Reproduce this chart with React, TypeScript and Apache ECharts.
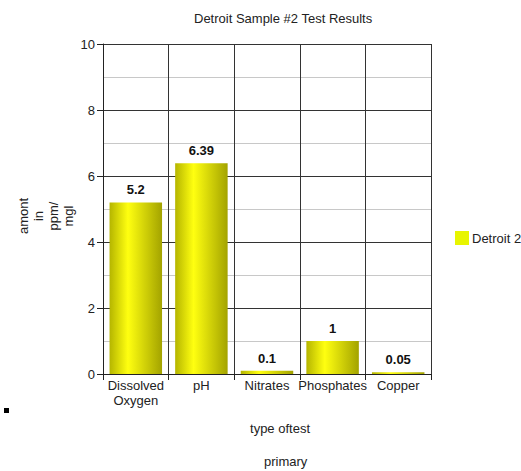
import React, { useEffect, useRef } from "react";
import * as echarts from "echarts";

const categories = ["Dissolved\nOxygen", "pH", "Nitrates", "Phosphates", "Copper"];
const values = [5.2, 6.39, 0.1, 1, 0.05];
const seriesName = "Detroit 2";
const titleText = "Detroit Sample #2 Test Results";
const xName = "type oftest";
const yName = "amont\nin\nppm/\nmgl";
const footer = "primary";

export default function App() {
  const ref = useRef<HTMLDivElement>(null);
  useEffect(() => {
    const chart = echarts.init(ref.current!, null, { renderer: "svg" });
    const font = "Liberation Sans, Arial, sans-serif";
    chart.setOption({
      animation: false,
      textStyle: { fontFamily: font },
      title: {
        text: titleText,
        left: 189,
        top: 7,
        textStyle: { fontSize: 13, fontWeight: "normal", color: "#222", fontFamily: font },
      },
      legend: {
        data: [seriesName],
        orient: "vertical",
        left: 455,
        top: 231,
        padding: 0,
        itemWidth: 14,
        itemHeight: 14,
        itemGap: 6,
        icon: "rect",
        itemStyle: { color: "#e8f500" },
        textStyle: { fontSize: 13, color: "#222", fontFamily: font, padding: [0, 0, 0, -2] },
      },
      grid: { left: 103, right: 90, top: 44, bottom: 97, show: false },
      xAxis: {
        type: "category",
        data: categories,
        name: xName,
        nameLocation: "middle",
        nameGap: 48,
        nameMoveOverlap: false,
        nameTextStyle: { fontSize: 13, color: "#222", fontFamily: font, padding: [0, 0, 0, 26] },
        axisLine: { show: true, lineStyle: { color: "#222", width: 1 } },
        axisTick: { show: true, length: 6, interval: 0, lineStyle: { color: "#222" } },
        axisLabel: { fontSize: 13, color: "#222", lineHeight: 15, margin: 4, interval: 0, fontFamily: font },
        splitLine: { show: true, interval: 0, lineStyle: { color: "#333", width: 1 } },
      },
      yAxis: {
        type: "value",
        min: 0,
        max: 10,
        interval: 2,
        axisLine: { show: true, lineStyle: { color: "#222", width: 1 } },
        axisTick: { show: true, length: 6, lineStyle: { color: "#222" } },
        axisLabel: { fontSize: 13, color: "#222", margin: 8, fontFamily: font },
        splitLine: { show: true, lineStyle: { color: "#333", width: 1 } },
        minorTick: { show: false, splitNumber: 2 },
        minorSplitLine: { show: true, lineStyle: { color: "#c8c8c8", width: 1 } },
      },
      series: [
        {
          name: seriesName,
          type: "bar",
          data: values,
          barWidth: "80%",
          itemStyle: {
            color: new echarts.graphic.LinearGradient(0, 0, 1, 0, [
              { offset: 0, color: "#b5b500" },
              { offset: 0.35, color: "#ffff10" },
              { offset: 1, color: "#a3a300" },
            ]),
          },
          label: {
            show: true,
            position: "top",
            distance: 6,
            fontSize: 13,
            fontWeight: "bold",
            color: "#111",
            fontFamily: font,
          },
        },
      ],
      graphic: [
        {
          type: "text",
          x: 46,
          y: 216,
          rotation: Math.PI / 2,
          style: {
            text: yName,
            fontSize: 13,
            lineHeight: 15,
            fill: "#222",
            fontFamily: font,
            align: "center",
            verticalAlign: "middle",
          },
        },
        { type: "rect", left: 4, top: 408, shape: { width: 5, height: 5 }, style: { fill: "#000" } },
        {
          type: "text",
          left: 264,
          top: 455,
          style: { text: footer, fontSize: 13, fill: "#222", fontFamily: font },
        },
      ],
    });
    return () => chart.dispose();
  }, []);
  return <div ref={ref} style={{ width: 521, height: 471, position: "absolute", left: 0, top: 0 }} />;
}
